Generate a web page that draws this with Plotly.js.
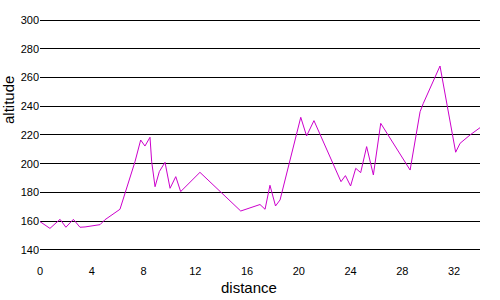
<!DOCTYPE html>
<html>
<head>
<meta charset="utf-8">
<script src="https://cdn.plot.ly/plotly-3.0.1.min.js"></script>
<style>html,body{margin:0;padding:0;background:#fff;}#chart{width:500px;height:300px;}</style>
</head>
<body>
<div id="chart"></div>
<script>
const distance = [0, 0.77, 1.55, 2.0, 2.58, 3.09, 3.48, 4.64, 5.0, 6.18, 7.34, 7.78, 8.11, 8.5, 8.63, 8.89, 9.22, 9.66, 10.05, 10.49, 10.87, 11.64, 12.36, 15.51, 17.0, 17.39, 17.77, 18.2, 18.55, 20.15, 20.6, 21.17, 23.26, 23.6, 24.0, 24.4, 24.78, 25.24, 25.76, 26.33, 28.6, 29.37, 29.62, 30.91, 32.12, 32.46, 33.23, 34.05];
const altitude = [159.7, 155, 161.3, 155.8, 161.3, 155.8, 156, 157.6, 160.9, 168.3, 201.4, 216.5, 212.3, 218.4, 201.4, 184, 194.5, 201, 182.9, 191, 180.6, 187.5, 194, 167.1, 171.6, 168.3, 185, 170.6, 174.8, 232.3, 219.3, 230, 187.5, 191.7, 184.5, 196.8, 193.8, 211.9, 192.2, 228.1, 195.6, 236.2, 242, 268, 208, 214.2, 220, 225.4];
const xTicks = [0, 4, 8, 12, 16, 20, 24, 28, 32];
const yTicks = [140, 160, 180, 200, 220, 240, 260, 280, 300];

const font = 'Liberation Sans, Arial, sans-serif';
Plotly.newPlot('chart', [{
  x: distance, y: altitude, type: 'scatter', mode: 'lines',
  line: {color: '#cc00cc', width: 1}, hoverinfo: 'skip'
}], {
  width: 500, height: 300,
  margin: {l: 40, r: 20, t: 18, b: 40},
  paper_bgcolor: '#fff', plot_bgcolor: '#fff',
  showlegend: false,
  font: {family: font, size: 11, color: '#000'},
  xaxis: {range: [0, 34], tickvals: xTicks, ticktext: xTicks.map(String), showgrid: false, zeroline: false, showline: false, ticks: '', ticklabelstandoff: 3, tickfont: {size: 11, color: '#000'}},
  yaxis: {range: [133, 301.4], tickvals: yTicks, ticktext: yTicks.map(String), showgrid: true, gridcolor: '#000', gridwidth: 1, zeroline: false, showline: false, ticks: '', tickfont: {size: 11, color: '#000'}},
  annotations: [
    {text: 'altitude', xref: 'paper', yref: 'paper', x: 0, y: 0, xanchor: 'center', yanchor: 'middle', textangle: -90, showarrow: false, font: {size: 15, color: '#000'}, xshift: -32, yshift: 160},
    {text: 'distance', xref: 'paper', yref: 'paper', x: 0.5, y: 0, xanchor: 'center', yanchor: 'middle', showarrow: false, font: {size: 15, color: '#000'}, xshift: -11, yshift: -27}
  ]
}, {staticPlot: true});
</script>
</body>
</html>
